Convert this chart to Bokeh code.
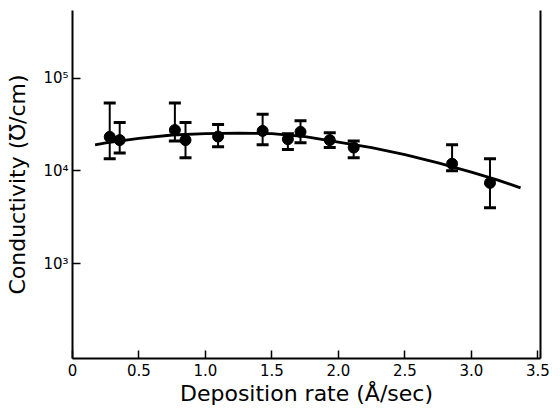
from bokeh.plotting import figure
from bokeh.models import (FixedTicker, LogAxis, Whisker, TeeHead, ColumnDataSource, Range1d)
from bokeh.embed import file_html
from bokeh.resources import INLINE

# --- data ---
rate = [0.28, 0.355, 0.77, 0.85, 1.095, 1.43, 1.62, 1.715, 1.935, 2.115, 2.855, 3.14]
conductivity = [23200, 21400, 27500, 21400, 23400, 26900, 21900, 26300, 21400, 17800, 11900, 7400]
cond_upper = [53700, 33100, 53700, 33100, 31600, 40700, 25100, 34700, 25700, 20900, 19100, 13500]
cond_lower = [13500, 15500, 20900, 13800, 18200, 19100, 17000, 20000, 17800, 13800, 10000, 4000]

fit_rate = [0.17, 0.25, 0.5, 0.75, 1.0, 1.25, 1.5, 1.75, 2.0, 2.25, 2.5, 2.75, 3.0, 3.2, 3.37]
fit_cond = [19000, 19950, 22400, 24300, 25100, 25400, 25100, 23400, 20400, 17800, 14960, 12160, 9660, 7940, 6530]

x_ticks = [0, 0.5, 1.0, 1.5, 2.0, 2.5, 3.0, 3.5]
x_tick_labels = ["0", "0.5", "1.0", "1.5", "2.0", "2.5", "3.0", "3.5"]
y_ticks = [1e3, 1e4, 1e5]
y_tick_labels = ["10\u00b3", "10\u2074", "10\u2075"]

FONT = "DejaVu Sans"

p = figure(width=560, height=419, y_axis_type="log",
           x_range=Range1d(0, 3.52), y_range=Range1d(94.6, 534600),
           output_backend="svg", toolbar_location=None,
           min_border_left=72, min_border_right=20, min_border_top=10, min_border_bottom=61)
p.outline_line_color = None
p.xgrid.visible = False
p.ygrid.visible = False
p.background_fill_color = "white"
p.border_fill_color = "white"

xa = p.xaxis[0]
xa.ticker = FixedTicker(ticks=x_ticks)
xa.major_label_overrides = {t: l for t, l in zip(x_ticks, x_tick_labels)}
xa.axis_label = "Deposition rate (\u00c5/sec)"
ya = p.yaxis[0]
ya.ticker = FixedTicker(ticks=y_ticks)
ya.major_label_overrides = {t: l for t, l in zip(y_ticks, y_tick_labels)}
ya.axis_label = "Conductivity (\u2127/cm)"

for ax in (xa, ya):
    ax.axis_line_width = 2
    ax.axis_line_color = "black"
    ax.major_tick_in = 8
    ax.major_tick_out = 0
    ax.major_tick_line_width = 1.5
    ax.minor_tick_line_color = None
    ax.major_label_text_font = FONT
    ax.major_label_text_font_size = "15px"
    ax.major_label_text_color = "black"
    ax.axis_label_text_font = FONT
    ax.axis_label_text_font_size = "22px"
    ax.axis_label_text_font_style = "normal"
    ax.axis_label_text_color = "black"
xa.major_label_standoff = 5
xa.axis_label_standoff = 2
ya.major_label_standoff = 4
ya.axis_label_standoff = 10

right = LogAxis(ticker=FixedTicker(ticks=[]), axis_line_width=2, axis_line_color="black",
                major_label_text_font_size="0px", major_tick_line_color=None,
                minor_tick_line_color=None)
p.add_layout(right, "right")

src = ColumnDataSource(dict(x=rate, y=conductivity, up=cond_upper, lo=cond_lower))
fit = ColumnDataSource(dict(x=fit_rate, y=fit_cond))

p.line("x", "y", source=fit, line_color="black", line_width=2.8)

wh = Whisker(source=src, base="x", upper="up", lower="lo", line_color="black", line_width=2,
             upper_head=TeeHead(size=12, line_width=3, line_color="black"),
             lower_head=TeeHead(size=12, line_width=3, line_color="black"))
p.add_layout(wh)

p.scatter("x", "y", source=src, size=11, color="black")

open("out.html", "w").write(file_html(p, INLINE))
